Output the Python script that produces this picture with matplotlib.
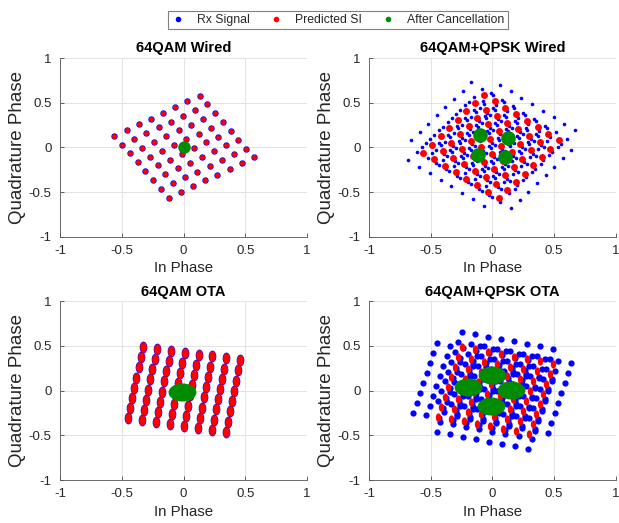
#!/usr/bin/env python3
#
# Self-interference cancellation constellations, 2x2 panels
#
import matplotlib
matplotlib.use('Agg')
import matplotlib.pyplot as plt
from matplotlib.lines import Line2D
from matplotlib.path import Path
from matplotlib.transforms import Affine2D
import numpy as np

plt.rcParams['font.family'] = ['Liberation Sans', 'DejaVu Sans']

titles = ['64QAM Wired', '64QAM+QPSK Wired', '64QAM OTA', '64QAM+QPSK OTA']
series = ['Rx Signal', 'Predicted SI', 'After Cancellation']
ticks = [-1, -0.5, 0, 0.5, 1]
tick_labels = ['-1', '-0.5', '0', '0.5', '1']

# 64QAM amplitude levels on I and Q
qam_levels = [-7, -5, -3, -1, 1, 3, 5, 7]

# Predicted SI constellation corners:
# symbol (+7,+7), symbol (+7,-7), symbol (-7,+7)
si_pp = [(0.13, 0.58), (-0.07, 0.59), (0.46, 0.34), (0.49, 0.30)]
si_pm = [(0.57, -0.11), (0.54, 0.08), (0.34, -0.46), (0.30, -0.48)]
si_mp = [(-0.56, 0.13), (-0.56, -0.06), (-0.33, 0.49), (-0.25, 0.49)]

# Signal left after cancellation (residual / QPSK points)
res_i = [[0.0], [-0.10, 0.13, -0.12, 0.10], [-0.01], [-0.20, 0.00, 0.15, -0.01]]
res_q = [[0.0], [0.14, 0.11, -0.08, -0.11], [-0.01], [0.04, 0.17, 0.005, -0.17]]
has_qpsk = [False, True, False, True]

#
# Styles
#
c_rx = '#0000ff'
c_si = '#ff0000'
c_res = '#008c00'

ellv = Path.unit_circle().transformed(Affine2D().scale(0.65, 1.0))
ellh = Path.unit_circle().transformed(Affine2D().scale(1.0, 0.65))
rx_style = [dict(marker='o', ms=4.6), dict(marker='o', ms=2.6),
            dict(marker=ellv, ms=8.5), dict(marker='o', ms=4.5)]
si_style = [dict(marker='o', ms=3.6), dict(marker='o', ms=5.0),
            dict(marker=ellv, ms=7.5), dict(marker=ellv, ms=6.0)]
res_style = [dict(marker='o', ms=9), dict(marker='o', ms=10.5),
             dict(marker=ellh, ms=20), dict(marker=ellh, ms=20)]

fig = plt.figure(figsize=(6.19, 5.23), dpi=100)
pos = [(0.097, 0.547), (0.596, 0.547), (0.097, 0.082), (0.596, 0.082)]
w, h = 0.399, 0.342

lev = np.array(qam_levels, dtype=float)
gi, gq = np.meshgrid(lev, lev)
gi, gq = gi.ravel(), gq.ravel()

for k in range(4):
    ax = fig.add_axes([pos[k][0], pos[k][1], w, h])

    pp, pm, mp = np.array(si_pp[k]), np.array(si_pm[k]), np.array(si_mp[k])
    c = (pm + mp) / 2
    u = (pp - mp) / 14
    v = (pp - pm) / 14
    si = c[None, :] + gi[:, None] * u[None, :] + gq[:, None] * v[None, :]

    ri = np.array(res_i[k])
    rq = np.array(res_q[k])
    if has_qpsk[k]:
        rx = np.concatenate([si + np.array([a, b]) for a, b in zip(ri, rq)])
    else:
        rx = si

    ax.plot(rx[:, 0], rx[:, 1], ls='none', color=c_rx, mec='none',
            zorder=3, **rx_style[k])
    ax.plot(si[:, 0], si[:, 1], ls='none', color=c_si, mec='none',
            zorder=4, **si_style[k])
    ax.plot(ri, rq, ls='none', color=c_res, mec='none', zorder=5,
            **res_style[k])

    ax.set_xlim(-1, 1)
    ax.set_ylim(-1, 1)
    ax.set_xticks(ticks)
    ax.set_yticks(ticks)
    ax.set_xticklabels(tick_labels)
    ax.set_yticklabels(tick_labels)
    ax.tick_params(direction='in', length=3, width=0.5, labelsize=9.5,
                   colors='#262626', pad=6)
    ax.grid(color='#e3e3e3', lw=0.7, zorder=0)
    ax.set_axisbelow(True)
    for s in ('top', 'right'):
        ax.spines[s].set_visible(False)
    for s in ('left', 'bottom'):
        ax.spines[s].set_color('#555555')
        ax.spines[s].set_linewidth(0.6)
    ax.set_title(titles[k], fontsize=10.5, fontweight='bold', pad=4)
    ax.set_xlabel('In Phase', fontsize=10.8, color='#262626', labelpad=3)
    ax.set_ylabel('Quadrature Phase', fontsize=13.5, color='#262626',
                  labelpad=2)

handles = [Line2D([0], [0], ls='none', marker='o', ms=4, color=cc, mec='none')
           for cc in (c_rx, c_si, c_res)]
leg = fig.legend(handles, series, loc='upper center',
                 bbox_to_anchor=(0.546, 0.99), ncol=3, fontsize=8.8,
                 fancybox=False, edgecolor='#808080', framealpha=1,
                 handlelength=1.0, handletextpad=1.1, columnspacing=1.6,
                 borderpad=0.25)
leg.get_frame().set_linewidth(0.8)
for t in leg.get_texts():
    t.set_color('#262626')

fig.savefig('out.png', dpi=100)
